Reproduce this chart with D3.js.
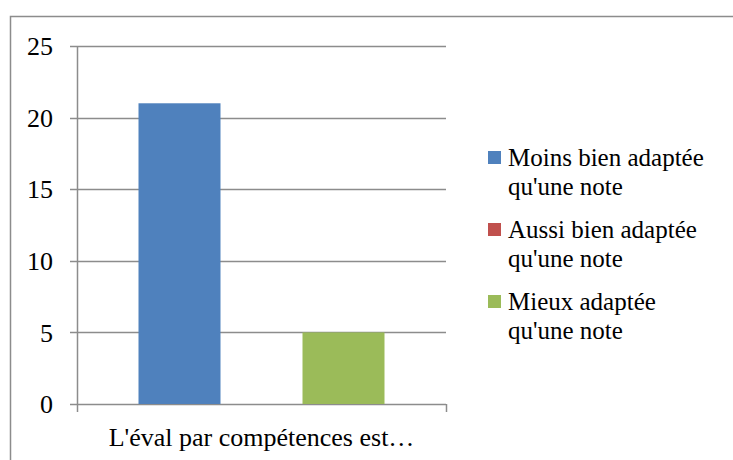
<!DOCTYPE html>
<html><head><meta charset="utf-8"><script src="https://cdn.jsdelivr.net/npm/d3@7"></script></head>
<body style="margin:0">
<script>
// DATA
var categories = ["L'éval par compétences est…"];
var seriesNames = ["Moins bien adaptée qu'une note", "Aussi bien adaptée qu'une note", "Mieux adaptée qu'une note"];
var legendLines = [["Moins bien adaptée", "qu'une note"], ["Aussi bien adaptée", "qu'une note"], ["Mieux adaptée", "qu'une note"]];
var seriesValues = [21, 0, 5];
var seriesColors = ["#4f81bd", "#c0504d", "#9bbb59"];
var yTicks = [0, 5, 10, 15, 20, 25];

var width = 733, height = 460;
var margin = {top: 46, left: 77, right: 287, bottom: 56};
var cw = width - margin.left - margin.right,
    ch = height - margin.top - margin.bottom;
var gridColor = "#8c8c8c";
var serif = function () { return "'Liberation Serif'"; };

var svg = d3.select("body").append("svg")
    .attr("width", width)
    .attr("height", height);

// outer chart border (runs off the page at right/bottom)
svg.append("rect")
    .attr("x", 10.5).attr("y", 16.5)
    .attr("width", 800).attr("height", 500)
    .attr("fill", "none")
    .attr("stroke", gridColor)
    .attr("stroke-width", 1.5);

var g = svg.append("g").attr("transform", "translate(" + margin.left + "," + margin.top + ")");

var y = d3.scaleLinear().domain([0, 25]).range([ch, 0]);
var x0 = d3.scaleBand().domain(categories).range([0, cw]);
var x1 = d3.scaleBand().domain(seriesNames).range([0, x0.bandwidth()]).paddingOuter(0.75);

// gridlines
g.selectAll(".grid")
    .data(yTicks)
    .enter().append("line")
    .attr("x1", -7).attr("x2", cw)
    .attr("y1", function (d) { return Math.round(y(d)) + 0.5; })
    .attr("y2", function (d) { return Math.round(y(d)) + 0.5; })
    .attr("stroke", gridColor)
    .attr("stroke-width", 1.5);

// y axis line
g.append("line")
    .attr("x1", 0.5).attr("x2", 0.5)
    .attr("y1", 0).attr("y2", ch)
    .attr("stroke", gridColor).attr("stroke-width", 1.5);

// x axis end ticks
g.selectAll(".xtick")
    .data([0, cw])
    .enter().append("line")
    .attr("x1", function (d) { return d + 0.5; })
    .attr("x2", function (d) { return d + 0.5; })
    .attr("y1", ch).attr("y2", ch + 8)
    .attr("stroke", gridColor).attr("stroke-width", 1.5);

// y labels
g.selectAll(".ylab")
    .data(yTicks)
    .enter().append("text")
    .attr("x", -24)
    .attr("y", function (d) { return y(d); })
    .attr("dy", "0.35em")
    .attr("text-anchor", "end")
    .attr("font-size", 26)
    .style("font-family", serif)
    .text(function (d) { return d; });

// bars
var cat = g.selectAll(".cat")
    .data(categories)
    .enter().append("g")
    .attr("transform", function (d) { return "translate(" + x0(d) + ",0)"; });

cat.selectAll("rect")
    .data(seriesNames.map(function (s, i) { return {name: s, value: seriesValues[i], color: seriesColors[i]}; }))
    .enter().append("rect")
    .attr("x", function (d) { return x1(d.name); })
    .attr("y", function (d) { return y(d.value); })
    .attr("width", x1.bandwidth())
    .attr("height", function (d) { return ch - y(d.value); })
    .attr("fill", function (d) { return d.color; });

// category label
g.selectAll(".xlab")
    .data(categories)
    .enter().append("text")
    .attr("x", function (d) { return x0(d) + x0.bandwidth() / 2; })
    .attr("y", ch + 42)
    .attr("text-anchor", "middle")
    .attr("font-size", 26)
    .style("font-family", serif)
    .text(function (d) { return d; });

// legend
var legY = [158, 230, 302];
var item = svg.selectAll(".leg")
    .data(seriesNames)
    .enter().append("g")
    .attr("transform", function (d, i) { return "translate(488," + legY[i] + ")"; });

item.append("rect")
    .attr("x", 0).attr("y", -7)
    .attr("width", 13).attr("height", 13)
    .attr("fill", function (d, i) { return seriesColors[i]; });

item.each(function (d, i) {
    var t = d3.select(this).append("text")
        .attr("font-size", 25)
        .style("font-family", serif);
    legendLines[i].forEach(function (line, j) {
        t.append("tspan")
            .attr("x", 20)
            .attr("y", j * 29 + 8)
            .text(line);
    });
});
</script>
</body>
</html>
